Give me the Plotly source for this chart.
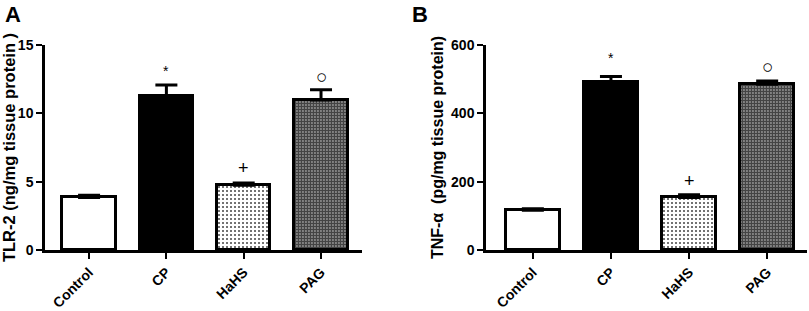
import plotly.graph_objects as go
from plotly.subplots import make_subplots

categories = ["Control", "CP", "HaHS", "PAG"]
tlr2_values = [3.85, 11.24, 4.73, 10.97]
tlr2_errors = [0.15, 0.83, 0.17, 0.75]
tlr2_marks = ["", "*", "+", "○"]
tlr2_mark_y = [0, 13.1, 6.0, 12.7]

tnf_values = [116, 493, 154, 485]
tnf_errors = [5, 15, 8, 10]
tnf_marks = ["", "*", "+", "○"]
tnf_mark_y = [0, 562, 203, 536]

fills = ["white", "black", "white", "white"]
pattern_shapes = ["", "", ".", "."]
pattern_sizes = [6, 6, 4, 3]
pattern_solid = [0.3, 0.3, 0.2, 0.8]

xpos = list(range(len(categories)))

fig = make_subplots(rows=1, cols=2)

FONT = "Liberation Sans, Arial, sans-serif"

def add_panel(vals, errs, col):
    fig.add_trace(go.Bar(
        x=xpos, y=vals, width=0.69,
        marker=dict(
            color=fills,
            line=dict(color="black", width=3),
            pattern=dict(shape=pattern_shapes, size=pattern_sizes,
                         solidity=pattern_solid, fgcolor="black",
                         fgopacity=1, fillmode="overlay"),
        ),
        error_y=dict(type="data", symmetric=False, array=errs,
                     arrayminus=[0]*len(errs), color="black",
                     thickness=3, width=11),
        showlegend=False,
        hoverinfo="skip",
    ), row=1, col=col)

add_panel(tlr2_values, tlr2_errors, 1)
add_panel(tnf_values, tnf_errors, 2)

def mark_font(m):
    size = {"*": 14, "+": 18, "○": 19}[m]
    return dict(size=size, family=FONT, color="black")

annotations = []
for i, (m, y) in enumerate(zip(tlr2_marks, tlr2_mark_y)):
    if m:
        annotations.append(dict(x=xpos[i], y=y, xref="x", yref="y", text=m,
                                showarrow=False, font=mark_font(m)))
for i, (m, y) in enumerate(zip(tnf_marks, tnf_mark_y)):
    if m:
        annotations.append(dict(x=xpos[i], y=y, xref="x2", yref="y2", text=m,
                                showarrow=False, font=mark_font(m)))
annotations.append(dict(x=3/809, y=1.0, xref="paper", yref="paper", text="<b>A</b>",
                        showarrow=False, xanchor="left", yanchor="top",
                        font=dict(size=22, family=FONT, color="black"), yshift=45))
annotations.append(dict(x=410/809, y=1.0, xref="paper", yref="paper", text="<b>B</b>",
                        showarrow=False, xanchor="left", yanchor="top",
                        font=dict(size=22, family=FONT, color="black"), yshift=45))

tickfont = dict(size=14, family=FONT, color="black", weight="bold")
xaxis_common = dict(
    tickmode="array", tickvals=xpos, ticktext=categories, tickangle=-45,
    showline=True, linecolor="black", linewidth=2.5, ticks="outside",
    ticklen=6, tickwidth=2, tickcolor="black", showgrid=False, zeroline=False,
    tickfont=tickfont, automargin=False,
)
yaxis_common = dict(
    showline=True, linecolor="black", linewidth=2.5, ticks="outside",
    ticklen=6, tickwidth=2, tickcolor="black", showgrid=False, zeroline=False,
    tickfont=tickfont, automargin=False,
)

fig.update_layout(
    width=809, height=311,
    margin=dict(l=0, r=0, t=45, b=61),
    plot_bgcolor="white", paper_bgcolor="white",
    bargap=0,
    annotations=annotations,
    xaxis=dict(domain=[45/809, 362/809], range=[-0.57, 3.53], **xaxis_common),
    xaxis2=dict(domain=[486/809, 807/809], range=[-0.6, 3.51], **xaxis_common),
    yaxis=dict(range=[0, 15], tickvals=[0, 5, 10, 15],
               title=dict(text="TLR-2 (ng/mg tissue protein )", standoff=4,
                          font=dict(size=16.5, family=FONT, color="black", weight="bold")),
               **yaxis_common),
    yaxis2=dict(range=[0, 600], tickvals=[0, 200, 400, 600],
                title=dict(text="TNF-α  (pg/mg tissue protein)", standoff=4,
                           font=dict(size=16, family=FONT, color="black", weight="bold")),
                **yaxis_common),
)

fig.write_html("out.html",
               config={"displayModeBar": False},
               post_script="document.body.style.margin='0';document.body.style.overflow='hidden';")
